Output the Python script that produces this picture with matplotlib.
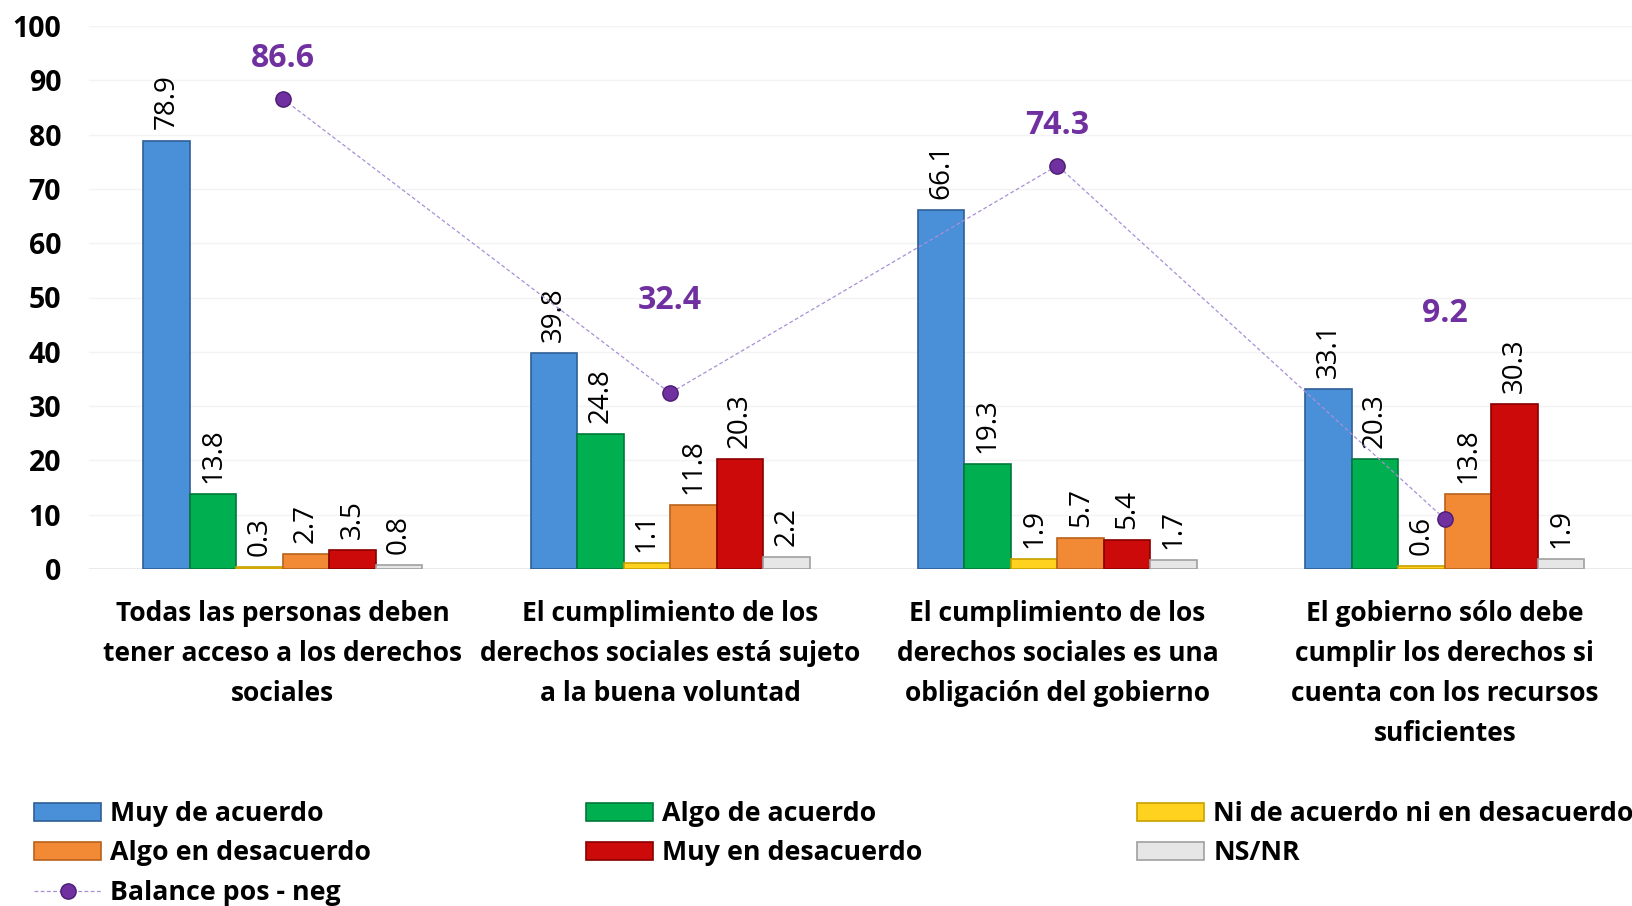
import matplotlib
matplotlib.use("Agg")
import matplotlib.pyplot as plt
import numpy as np

categories = [
    "Todas las personas deben\ntener acceso a los derechos\nsociales",
    "El cumplimiento de los\nderechos sociales está sujeto\na la buena voluntad",
    "El cumplimiento de los\nderechos sociales es una\nobligación del gobierno",
    "El gobierno sólo debe\ncumplir los derechos si\ncuenta con los recursos\nsuficientes",
]
series_names = ["Muy de acuerdo", "Algo de acuerdo", "Ni de acuerdo ni en desacuerdo",
                "Algo en desacuerdo", "Muy en desacuerdo", "NS/NR"]
muy_de_acuerdo = [78.9, 39.8, 66.1, 33.1]
algo_de_acuerdo = [13.8, 24.8, 19.3, 20.3]
ni_ni = [0.3, 1.1, 1.9, 0.6]
algo_en_desacuerdo = [2.7, 11.8, 5.7, 13.8]
muy_en_desacuerdo = [3.5, 20.3, 5.4, 30.3]
ns_nr = [0.8, 2.2, 1.7, 1.9]
balance = [86.6, 32.4, 74.3, 9.2]
balance_name = "Balance pos - neg"

series = [muy_de_acuerdo, algo_de_acuerdo, ni_ni, algo_en_desacuerdo, muy_en_desacuerdo, ns_nr]
colors = ["#4a90d9", "#00b050", "#ffd21f", "#f28a35", "#cc0a0a", "#e6e6e6"]
edges = ["#2f5f96", "#00793a", "#c9a000", "#b8621c", "#8a0000", "#a0a0a0"]

FONT = "Open Sans"
plt.rcParams['font.family'] = [FONT, 'DejaVu Sans']

fig = plt.figure(figsize=(16.32, 9.06), dpi=100)
ax = fig.add_axes([89/1632, 1 - 569/906, 1 - 89/1632 + 0.004, (569 - 26)/906])

x = np.arange(len(categories))
bw = 0.12
n = len(series)
bar_handles = []
for i, (vals, c, ec, name) in enumerate(zip(series, colors, edges, series_names)):
    pos = x + (i - (n - 1) / 2) * bw
    h = ax.bar(pos, vals, width=bw, color=c, edgecolor=ec, linewidth=1.2, label=name, zorder=3)
    bar_handles.append(h)
    for px, v in zip(pos, vals):
        ax.annotate(f"{v:.1f}", (px, v), xytext=(0, 8), textcoords="offset points",
                    rotation=90, ha="center", va="bottom", fontsize=20, color="black",
                    family=FONT, zorder=5)

line_h, = ax.plot(x, balance, linestyle=(0, (3, 2)), color="#a98fd6", linewidth=0.9,
                  marker="o", markersize=11, markerfacecolor="#7030a0",
                  markeredgecolor="#4b1c73", markeredgewidth=1, zorder=6, label=balance_name)
label_offsets = [29, 67, 29, 148]
for px, v, off in zip(x, balance, label_offsets):
    ax.annotate(f"{v:.1f}", (px, v), xytext=(0, off), textcoords="offset points",
                ha="center", va="center", fontsize=23, fontweight="bold",
                color="#7030a0", zorder=7)

ax.set_xlim(-0.5, 3.5)
ax.set_ylim(0, 100)
ax.set_yticks(np.arange(0, 101, 10))
ax.yaxis.grid(True, color="#f3f3f3", linewidth=1, zorder=0)
ax.set_axisbelow(True)
for s in ax.spines.values():
    s.set_visible(False)
ax.axhline(0, color="#e8e8e8", linewidth=1.2, zorder=1)
ax.tick_params(axis="y", length=0, pad=20, labelsize=20.5)
for lab in ax.get_yticklabels():
    lab.set_fontweight("bold")
ax.set_xticks(x)
ax.set_xticklabels(categories, fontsize=19, fontweight="bold", linespacing=1.62, va="top")
ax.tick_params(axis="x", length=0, pad=22)

order = [0, 3, 6, 1, 4, 2, 5]
handles = bar_handles + [line_h]
labels = series_names + [balance_name]
leg = fig.legend([handles[i] for i in order], [labels[i] for i in order],
                 loc="upper left", bbox_to_anchor=(34/1632, 1 - 801/906), ncol=3,
                 frameon=False, prop={"weight": "bold", "size": 19.3},
                 handlelength=2.5, handleheight=0.65, handletextpad=0.35,
                 columnspacing=8.0, labelspacing=0.5, borderaxespad=0, borderpad=0)

fig.savefig("out.png", dpi=100)
